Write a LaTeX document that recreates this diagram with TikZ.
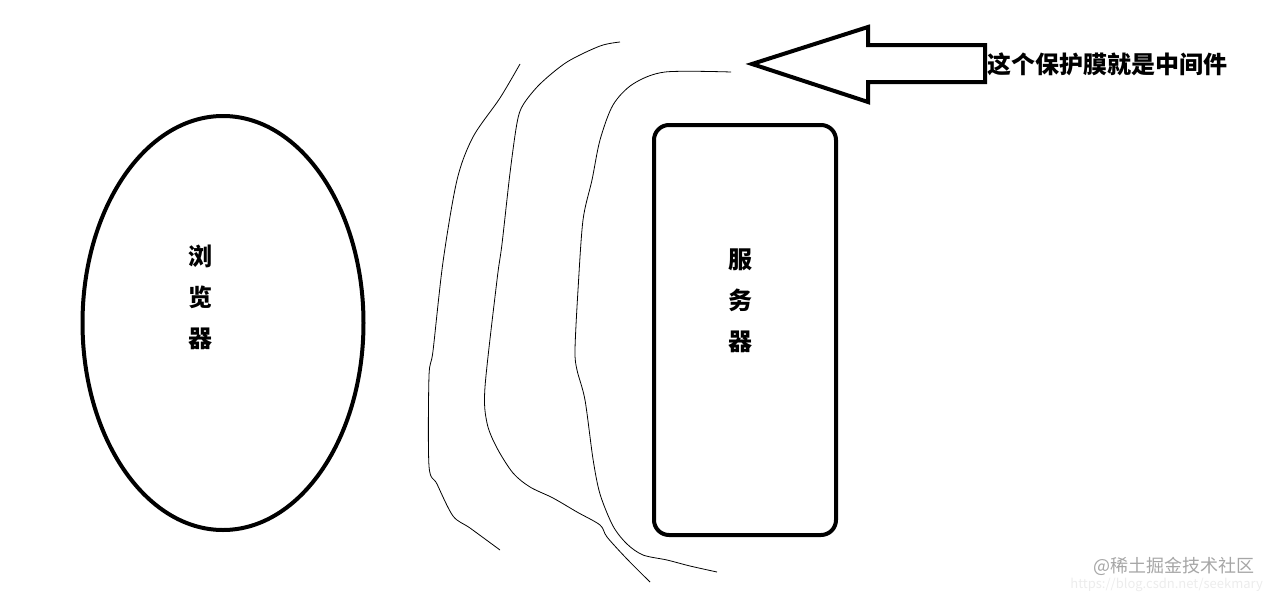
\documentclass[tikz,border=0pt]{standalone}
\usepackage{fontspec}
\setmainfont{Noto Sans CJK SC}
\usetikzlibrary{shapes.geometric}
\tikzset{
  thickline/.style={line width=4pt},
  wall/.style={line width=0.8pt, smooth},
  vlabel/.style={font=\bfseries\fontsize{24}{41}\selectfont, align=center, inner sep=0pt},
}
\begin{document}
\begin{tikzpicture}[x=1pt, y=-1pt]
	\useasboundingbox (0,0) rectangle (1272,597);

		% 浏览器
		\node[thickline, draw, ellipse, minimum width=281pt, minimum height=414pt, inner sep=0pt] (browser) at (223,323) {};
		\node[vlabel] (browsertext) at (200,297) {浏\\览\\器};

		% 服务器
		\node[thickline, draw, rounded corners=15pt, minimum width=182pt, minimum height=410pt, inner sep=0pt] (server) at (745,330) {};
		\node[vlabel] (servertext) at (740,301) {服\\务\\器};

		% 保护膜 (三条线)
		\draw[wall] plot coordinates {(520,64) (500,98) (473,137) (457,180) (443,262) (433,351) (429,376) (429,466) (437,484) (453,516) (470,528) (500,550)};
		\draw[wall] plot coordinates {(620,42) (600,46) (567,62) (540,84) (523,105) (517,123) (510,173) (502,244) (497,280) (485,387) (487,423) (497,448) (513,473) (530,487) (553,498) (577,512) (600,525) (607,537) (627,559) (650,582)};
		\draw[wall] plot coordinates {(731,72) (665,72) (633,84) (613,105) (600,140) (592,180) (583,220) (578,290) (575,350) (577,370) (585,400) (593,459) (600,494) (613,526) (627,544) (643,555) (667,560) (690,566) (717,572)};

		% 空心箭头
		\draw[thickline, line join=miter] (752,64) -- (868,27) -- (868,45) -- (985,45) -- (985,82) -- (868,82) -- (868,102) -- cycle;
		\node[font=\bfseries\fontsize{24}{28}\selectfont, anchor=west, inner sep=0pt] (note) at (987,64) {这个保护膜就是中间件};

		% 水印
		\node[font=\fontsize{18}{20}\selectfont, text=gray!70, anchor=east, inner sep=0pt] (mark) at (1255,566) {@稀土掘金技术社区};
		\node[font=\fontsize{13}{15}\selectfont, text=gray!15, anchor=east, inner sep=0pt] (url) at (1263,585) {https://blog.csdn.net/seekmary};

\end{tikzpicture}
\end{document}
